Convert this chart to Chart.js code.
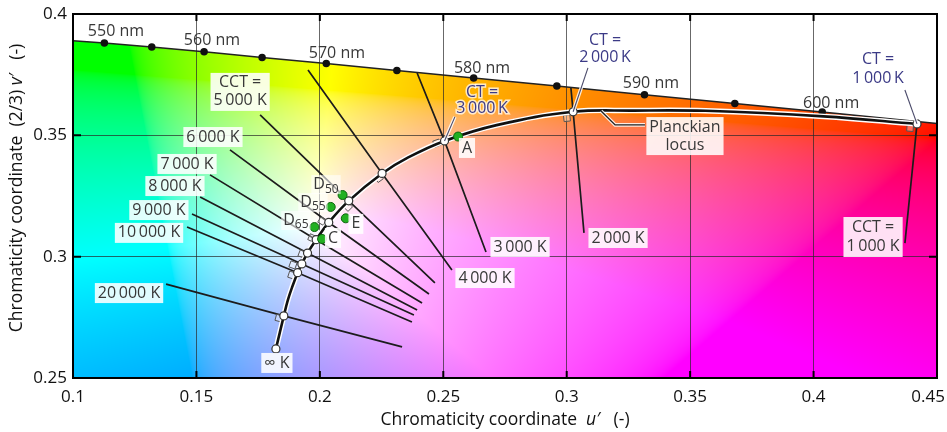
<!DOCTYPE html>
<html>
<head>
<meta charset="utf-8">
<script src="https://cdn.jsdelivr.net/npm/chart.js@4.4.0/dist/chart.umd.min.js"></script>
<style>
  html, body { margin: 0; padding: 0; background: #fff; }
  #wrap { width: 947px; height: 432px; }
</style>
</head>
<body>
<div id="wrap"><canvas id="chart"></canvas></div>
<script>
// axis ticks
const xTickLabels = ['0.1', '0.15', '0.2', '0.25', '0.3', '0.35', '0.4', '0.45'];
const yTickLabels = ['0.25', '0.3', '0.35', '0.4'];

// spectral locus (u', 2/3 v'), 5 nm steps, first and last point sit on the frame
const spectralU = [0.1, 0.1127, 0.1319, 0.1531, 0.1766, 0.2026, 0.2312, 0.2623, 0.2960, 0.3315, 0.3681, 0.4035, 0.4379, 0.45];
const spectralV = [0.3890, 0.3881, 0.3864, 0.3844, 0.3821, 0.3796, 0.3767, 0.3736, 0.3703, 0.3667, 0.3631, 0.3596, 0.3561, 0.3549];
const spectralDot = [0, 1, 1, 1, 1, 1, 1, 1, 1, 1, 1, 1, 0, 0];

// Planckian locus
const planckT = [1000, 1200, 1500, 1750, 2000, 2500, 3000, 3500, 4000, 5000, 6000, 7000, 8000, 9000, 10000, 12000, 15000, 20000, Infinity];
const planckU = [0.4419, 0.4040, 0.3562, 0.3272, 0.3026, 0.2716, 0.2505, 0.2358, 0.2252, 0.2117, 0.2036, 0.1985, 0.1950, 0.1927, 0.1910, 0.1889, 0.1870, 0.1854, 0.1822];
const planckV = [0.3547, 0.3578, 0.3601, 0.3602, 0.3597, 0.3542, 0.3477, 0.3409, 0.3343, 0.3230, 0.3141, 0.3070, 0.3015, 0.2970, 0.2934, 0.2878, 0.2820, 0.2756, 0.2620];
const planckMarked = [1, 0, 0, 0, 1, 0, 1, 0, 1, 1, 1, 1, 1, 1, 1, 0, 0, 1, 1];

// iso-CCT lines: start, crossing with the locus, end
const isoCCT = [1000, 2000, 3000, 4000, 5000, 6000, 7000, 8000, 9000, 10000, 20000];
const isoStartU = [0.4419, 0.3017, 0.2394, 0.1952, 0.1758, 0.1636, 0.1555, 0.1515, 0.1482, 0.1462, 0.1377];
const isoStartV = [0.3547, 0.3695, 0.3757, 0.3769, 0.3584, 0.3440, 0.3337, 0.3246, 0.3176, 0.3122, 0.2887];
const isoEndU = [0.4370, 0.3070, 0.2673, 0.2535, 0.2466, 0.2442, 0.2414, 0.2394, 0.2381, 0.2373, 0.2333];
const isoEndV = [0.3056, 0.3098, 0.3019, 0.2945, 0.2892, 0.2846, 0.2809, 0.2780, 0.2760, 0.2731, 0.2628];

// right-angle marks at the crossings
const squareU = [0.4391, 0.3001, 0.2474, 0.2239, 0.2114, 0.2009, 0.1968, 0.1928, 0.1891, 0.1886, 0.1834];
const squareV = [0.3530, 0.3571, 0.3468, 0.3324, 0.3205, 0.3147, 0.3077, 0.3011, 0.2966, 0.2924, 0.2747];
const squareRot = [5, -6, -20, -36, -45, -60, -65, -68, -70, -72, -75];

// standard illuminants
const illumNames = ['A', 'C', 'D50', 'D55', 'D65', 'E'];
const illumU = [0.2560, 0.2009, 0.2092, 0.2044, 0.1978, 0.2105];
const illumV = [0.3495, 0.3073, 0.3254, 0.3205, 0.3122, 0.3158];

// leader lines from the labels
const leaderU = [[0.2547, 0.2505], [0.3086, 0.3026], [0.4370, 0.4419], [0.3139, 0.3196, 0.3317]];
const leaderV = [[0.3576, 0.3477], [0.3778, 0.3597], [0.3687, 0.3547], [0.3600, 0.3543, 0.3543]];

// text in the plot
const notes = [
  { text: ['550 nm'], u: 0.1174, v: 0.3930 },
  { text: ['560 nm'], u: 0.1563, v: 0.3889 },
  { text: ['570 nm'], u: 0.2069, v: 0.3839 },
  { text: ['580 nm'], u: 0.2657, v: 0.3777 },
  { text: ['590 nm'], u: 0.3341, v: 0.3712 },
  { text: ['600 nm'], u: 0.4071, v: 0.3633 },
  { text: ['CCT =', '5\u2009000 K'], u: 0.1677, v: 0.3679, box: true },
  { text: ['6\u2009000 K'], u: 0.1567, v: 0.3493, box: true },
  { text: ['7\u2009000 K'], u: 0.1462, v: 0.3382, box: true },
  { text: ['8\u2009000 K'], u: 0.1413, v: 0.3291, box: true },
  { text: ['9\u2009000 K'], u: 0.1348, v: 0.3192, box: true },
  { text: ['10\u2009000 K'], u: 0.1308, v: 0.3098, box: true },
  { text: ['20\u2009000 K'], u: 0.1227, v: 0.2850, box: true },
  { text: ['\u221e K'], u: 0.1826, v: 0.2562, box: true },
  { text: ['3\u2009000 K'], u: 0.2811, v: 0.3040, box: true },
  { text: ['4\u2009000 K'], u: 0.2669, v: 0.2912, box: true },
  { text: ['2\u2009000 K'], u: 0.3208, v: 0.3077, box: true },
  { text: ['CCT =', '1\u2009000 K'], u: 0.4241, v: 0.3081, box: true, lh: 19 },
  { text: ['Planckian', 'locus'], u: 0.3479, v: 0.3497, box: true },
  { text: ['CT =', '3\u2009000\u2009K'], u: 0.2657, v: 0.3644, blue: true, lh: 16 },
  { text: ['CT =', '2\u2009000\u2009K'], u: 0.3155, v: 0.3858, blue: true, lh: 17 },
  { text: ['CT =', '1\u2009000\u2009K'], u: 0.4261, v: 0.3775, blue: true, lh: 19 },
  { text: ['A'], u: 0.2596, v: 0.3448, box: true },
  { text: ['C'], u: 0.2053, v: 0.3077, box: true },
  { text: ['E'], u: 0.2146, v: 0.3135, box: true },
  { text: ['D'], sub: '50', u: 0.2025, v: 0.3299, box: true },
  { text: ['D'], sub: '55', u: 0.1972, v: 0.3225, box: true },
  { text: ['D'], sub: '65', u: 0.1903, v: 0.3151, box: true }
];

const FONT = '"Open Sans", "Noto Sans", sans-serif';
const TEXT = '#383838';
const BLUE = '#3b3a86';

const pts = (us, vs) => us.map((u, i) => ({ x: u, y: vs[i] }));

// colour of a chromaticity (u', v = 2/3 v') as sRGB, purple side pushed to magenta
function chromaRgb(u, v) {
  const d = 2 * u - 8 * v + 4;
  const cx = 3 * u / d, cy = 2 * v / d;
  const X = cx / cy, Z = (1 - cx - cy) / cy;
  let r = Math.max(0, 3.2406 * X - 1.5372 - 0.4986 * Z);
  let g = Math.max(0, -0.9689 * X + 1.8758 + 0.0415 * Z);
  let b = Math.max(0, 0.0557 * X - 0.2040 + 1.0570 * Z);
  const m = Math.max(r, g, b);
  r /= m; g /= m; b /= m;
  b = Math.min(1, b * (1 + 1.5 * Math.max(0, r - g)));
  return [r, g, b].map(c => 255 * (c <= 0.0031308 ? 12.92 * c : 1.055 * Math.pow(c, 1 / 2.4) - 0.055));
}

let bgCache = null;
const chromaBackground = {
  id: 'chromaBackground',
  beforeDraw(chart) {
    const { ctx, chartArea: a, scales: { x, y } } = chart;
    const w = Math.round(a.right - a.left), h = Math.round(a.bottom - a.top);
    if (!bgCache || bgCache.width !== w || bgCache.height !== h) {
      bgCache = document.createElement('canvas');
      bgCache.width = w; bgCache.height = h;
      const octx = bgCache.getContext('2d');
      const img = octx.createImageData(w, h);
      const us = [];
      for (let i = 0; i < w; i++) us.push(x.getValueForPixel(a.left + i + 0.5));
      for (let j = 0; j < h; j++) {
        const v = y.getValueForPixel(a.top + j + 0.5);
        for (let i = 0; i < w; i++) {
          const c = chromaRgb(us[i], v);
          const k = (j * w + i) * 4;
          img.data[k] = c[0]; img.data[k + 1] = c[1]; img.data[k + 2] = c[2]; img.data[k + 3] = 255;
        }
      }
      octx.putImageData(img, 0, 0);
    }
    ctx.save();
    ctx.beginPath();
    spectralU.forEach((u, i) => {
      const px = x.getPixelForValue(u), py = y.getPixelForValue(spectralV[i]);
      if (i === 0) ctx.moveTo(px, py); else ctx.lineTo(px, py);
    });
    ctx.lineTo(a.right, a.bottom);
    ctx.lineTo(a.left, a.bottom);
    ctx.closePath();
    ctx.clip();
    ctx.drawImage(bgCache, a.left, a.top);
    ctx.restore();
  }
};

function drawParts(ctx, parts, size) {
  const fonts = parts.map(p => (p.italic ? 'italic ' : '') + size + 'px ' + FONT);
  const widths = parts.map((p, i) => { ctx.font = fonts[i]; return ctx.measureText(p.t).width; });
  let xx = -widths.reduce((s, w) => s + w, 0) / 2;
  parts.forEach((p, i) => {
    ctx.font = fonts[i];
    ctx.fillText(p.t, xx, 0);
    xx += widths[i];
  });
}

const notesPlugin = {
  id: 'notes',
  afterDatasetsDraw(chart) {
    const { ctx, scales: { x, y } } = chart;
    ctx.save();
    ctx.textBaseline = 'middle';
    notes.forEach(n => {
      const cx = x.getPixelForValue(n.u), cy = y.getPixelForValue(n.v);
      const lh = n.lh || 18;
      ctx.font = '16px ' + FONT;
      if (n.sub) {
        const wd = ctx.measureText(n.text[0]).width;
        ctx.font = '12px ' + FONT;
        const ws = ctx.measureText(n.sub).width;
        const left = cx - (wd + ws) / 2;
        if (n.box) {
          ctx.fillStyle = 'rgba(255,255,255,0.6)';
          ctx.fillRect(left - 2, cy - 9, wd + ws + 4, 19);
        }
        ctx.fillStyle = TEXT;
        ctx.textAlign = 'left';
        ctx.font = '16px ' + FONT;
        ctx.fillText(n.text[0], left, cy);
        ctx.font = '12px ' + FONT;
        ctx.fillText(n.sub, left + wd, cy + 5);
        return;
      }
      const w = Math.max(...n.text.map(t => ctx.measureText(t).width));
      const h = lh * n.text.length;
      if (n.box) {
        ctx.fillStyle = 'rgba(255,255,255,0.88)';
        ctx.fillRect(cx - w / 2 - 3, cy - h / 2 - 1, w + 6, h + 2);
      }
      ctx.textAlign = 'center';
      n.text.forEach((t, k) => {
        const ty = cy - h / 2 + lh * (k + 0.5);
        if (n.blue) {
          ctx.strokeStyle = 'rgba(255,255,255,0.75)';
          ctx.lineWidth = 3;
          ctx.strokeText(t, cx, ty);
        }
        ctx.fillStyle = n.blue ? BLUE : TEXT;
        ctx.fillText(t, cx, ty);
      });
    });
    ctx.restore();
  }
};

const frame = {
  id: 'frame',
  afterDraw(chart) {
    const { ctx, chartArea: a, scales: { x, y } } = chart;
    ctx.save();
    ctx.strokeStyle = '#000';
    ctx.lineWidth = 2;
    ctx.strokeRect(a.left, a.top, a.right - a.left, a.bottom - a.top);
    ctx.beginPath();
    x.ticks.forEach(t => {
      const px = x.getPixelForValue(t.value);
      ctx.moveTo(px, a.bottom); ctx.lineTo(px, a.bottom - 7);
      ctx.moveTo(px, a.top); ctx.lineTo(px, a.top + 7);
    });
    y.ticks.forEach(t => {
      const py = y.getPixelForValue(t.value);
      ctx.moveTo(a.left, py); ctx.lineTo(a.left + 8, py);
      ctx.moveTo(a.right, py); ctx.lineTo(a.right - 8, py);
    });
    ctx.stroke();

    // x tick labels, the last one kept inside the canvas
    ctx.fillStyle = '#111';
    ctx.font = '17px ' + FONT;
    ctx.textBaseline = 'middle';
    ctx.textAlign = 'center';
    x.ticks.forEach((t, i) => {
      const label = xTickLabels[i];
      let px = x.getPixelForValue(t.value);
      const half = ctx.measureText(label).width / 2;
      px = Math.min(px, chart.width - 2 - half);
      ctx.fillText(label, px, a.bottom + 19);
    });

    // axis titles
    ctx.fillStyle = '#111';
    ctx.textAlign = 'left';
    ctx.save();
    ctx.translate((a.left + a.right) / 2, a.bottom + 42);
    drawParts(ctx, [{ t: 'Chromaticity coordinate  ' }, { t: 'u\u2032', italic: true }, { t: '   (-)' }], 17.5);
    ctx.restore();
    ctx.save();
    ctx.translate(17, (a.top + a.bottom) / 2 - 8);
    ctx.rotate(-Math.PI / 2);
    drawParts(ctx, [{ t: 'Chromaticity coordinate  (2/3) ' }, { t: 'v\u2032', italic: true }, { t: '   (-)' }], 17.5);
    ctx.restore();
    ctx.restore();
  }
};

const datasets = [];

datasets.push({
  label: 'Illuminants',
  data: pts(illumU, illumV),
  showLine: false,
  pointRadius: 4.5,
  pointBackgroundColor: '#22b022',
  pointBorderColor: '#0d650d',
  pointBorderWidth: 1,
  order: 0
});

leaderU.forEach((us, i) => {
  datasets.push({
    label: 'leader ' + i,
    data: pts(us, leaderV[i]),
    showLine: true,
    borderColor: i === 3 ? '#222' : '#4a4a6a',
    borderWidth: i === 3 ? 1.4 : 1.1,
    pointRadius: 0,
    order: 1
  });
  datasets.push({
    label: 'leader halo ' + i,
    data: pts(us, leaderV[i]),
    showLine: true,
    borderColor: 'rgba(255,255,255,0.85)',
    borderWidth: 3.6,
    pointRadius: 0,
    order: 1.5
  });
});

datasets.push({
  label: 'Planckian locus',
  data: pts(planckU, planckV),
  showLine: true,
  tension: 0.4,
  borderColor: '#111',
  borderWidth: 2.6,
  pointRadius: planckMarked.map(m => (m ? 4 : 0)),
  pointBackgroundColor: '#fff',
  pointBorderColor: '#333',
  pointBorderWidth: 1.2,
  order: 2
});
datasets.push({
  label: 'Planckian halo',
  data: pts(planckU, planckV),
  showLine: true,
  tension: 0.4,
  borderColor: '#fff',
  borderWidth: 5.5,
  pointRadius: 0,
  order: 3
});

datasets.push({
  label: 'Right angles',
  data: pts(squareU, squareV),
  showLine: false,
  pointStyle: 'rect',
  pointRadius: 4.5,
  pointRotation: squareRot,
  pointBackgroundColor: 'rgba(255,255,255,0.35)',
  pointBorderColor: '#555',
  pointBorderWidth: 1,
  order: 3.5
});

isoCCT.forEach((t, i) => {
  const k = planckT.indexOf(t);
  datasets.push({
    label: t + ' K',
    data: [
      { x: isoStartU[i], y: isoStartV[i] },
      { x: planckU[k], y: planckV[k] },
      { x: isoEndU[i], y: isoEndV[i] }
    ],
    showLine: true,
    borderColor: '#1c1c1c',
    borderWidth: 1.7,
    pointRadius: 0,
    order: 4
  });
});

datasets.push({
  label: 'Spectral locus',
  data: pts(spectralU, spectralV),
  showLine: true,
  borderColor: '#222',
  borderWidth: 1.5,
  pointRadius: spectralDot.map(d => (d ? 3 : 0)),
  pointBackgroundColor: '#111',
  pointBorderColor: '#111',
  order: 5
});

new Chart(document.getElementById('chart').getContext('2d'), {
  type: 'scatter',
  data: { datasets },
  options: {
    responsive: true,
    maintainAspectRatio: false,
    animation: false,
    devicePixelRatio: 1,
    layout: { padding: { top: 14, right: 10, left: 0, bottom: 0 } },
    plugins: { legend: { display: false }, tooltip: { enabled: false } },
    scales: {
      x: {
        type: 'linear',
        min: 0.1,
        max: 0.45,
        afterFit(s) { s.height = 54; s.paddingLeft = 0; s.paddingRight = 0; },
        ticks: { stepSize: 0.05, display: false },
        grid: { color: 'rgba(40,40,40,0.7)', lineWidth: 1, drawTicks: false },
        border: { display: false }
      },
      y: {
        type: 'linear',
        min: 0.25,
        max: 0.4,
        afterFit(s) { s.width = 73; s.paddingTop = 0; s.paddingBottom = 0; },
        ticks: {
          stepSize: 0.05,
          callback: (v, i) => yTickLabels[i],
          font: { family: 'Open Sans', size: 17 },
          color: '#111',
          padding: 6
        },
        grid: { color: 'rgba(40,40,40,0.7)', lineWidth: 1, drawTicks: false },
        border: { display: false }
      }
    }
  },
  plugins: [chromaBackground, notesPlugin, frame]
});
</script>
</body>
</html>
